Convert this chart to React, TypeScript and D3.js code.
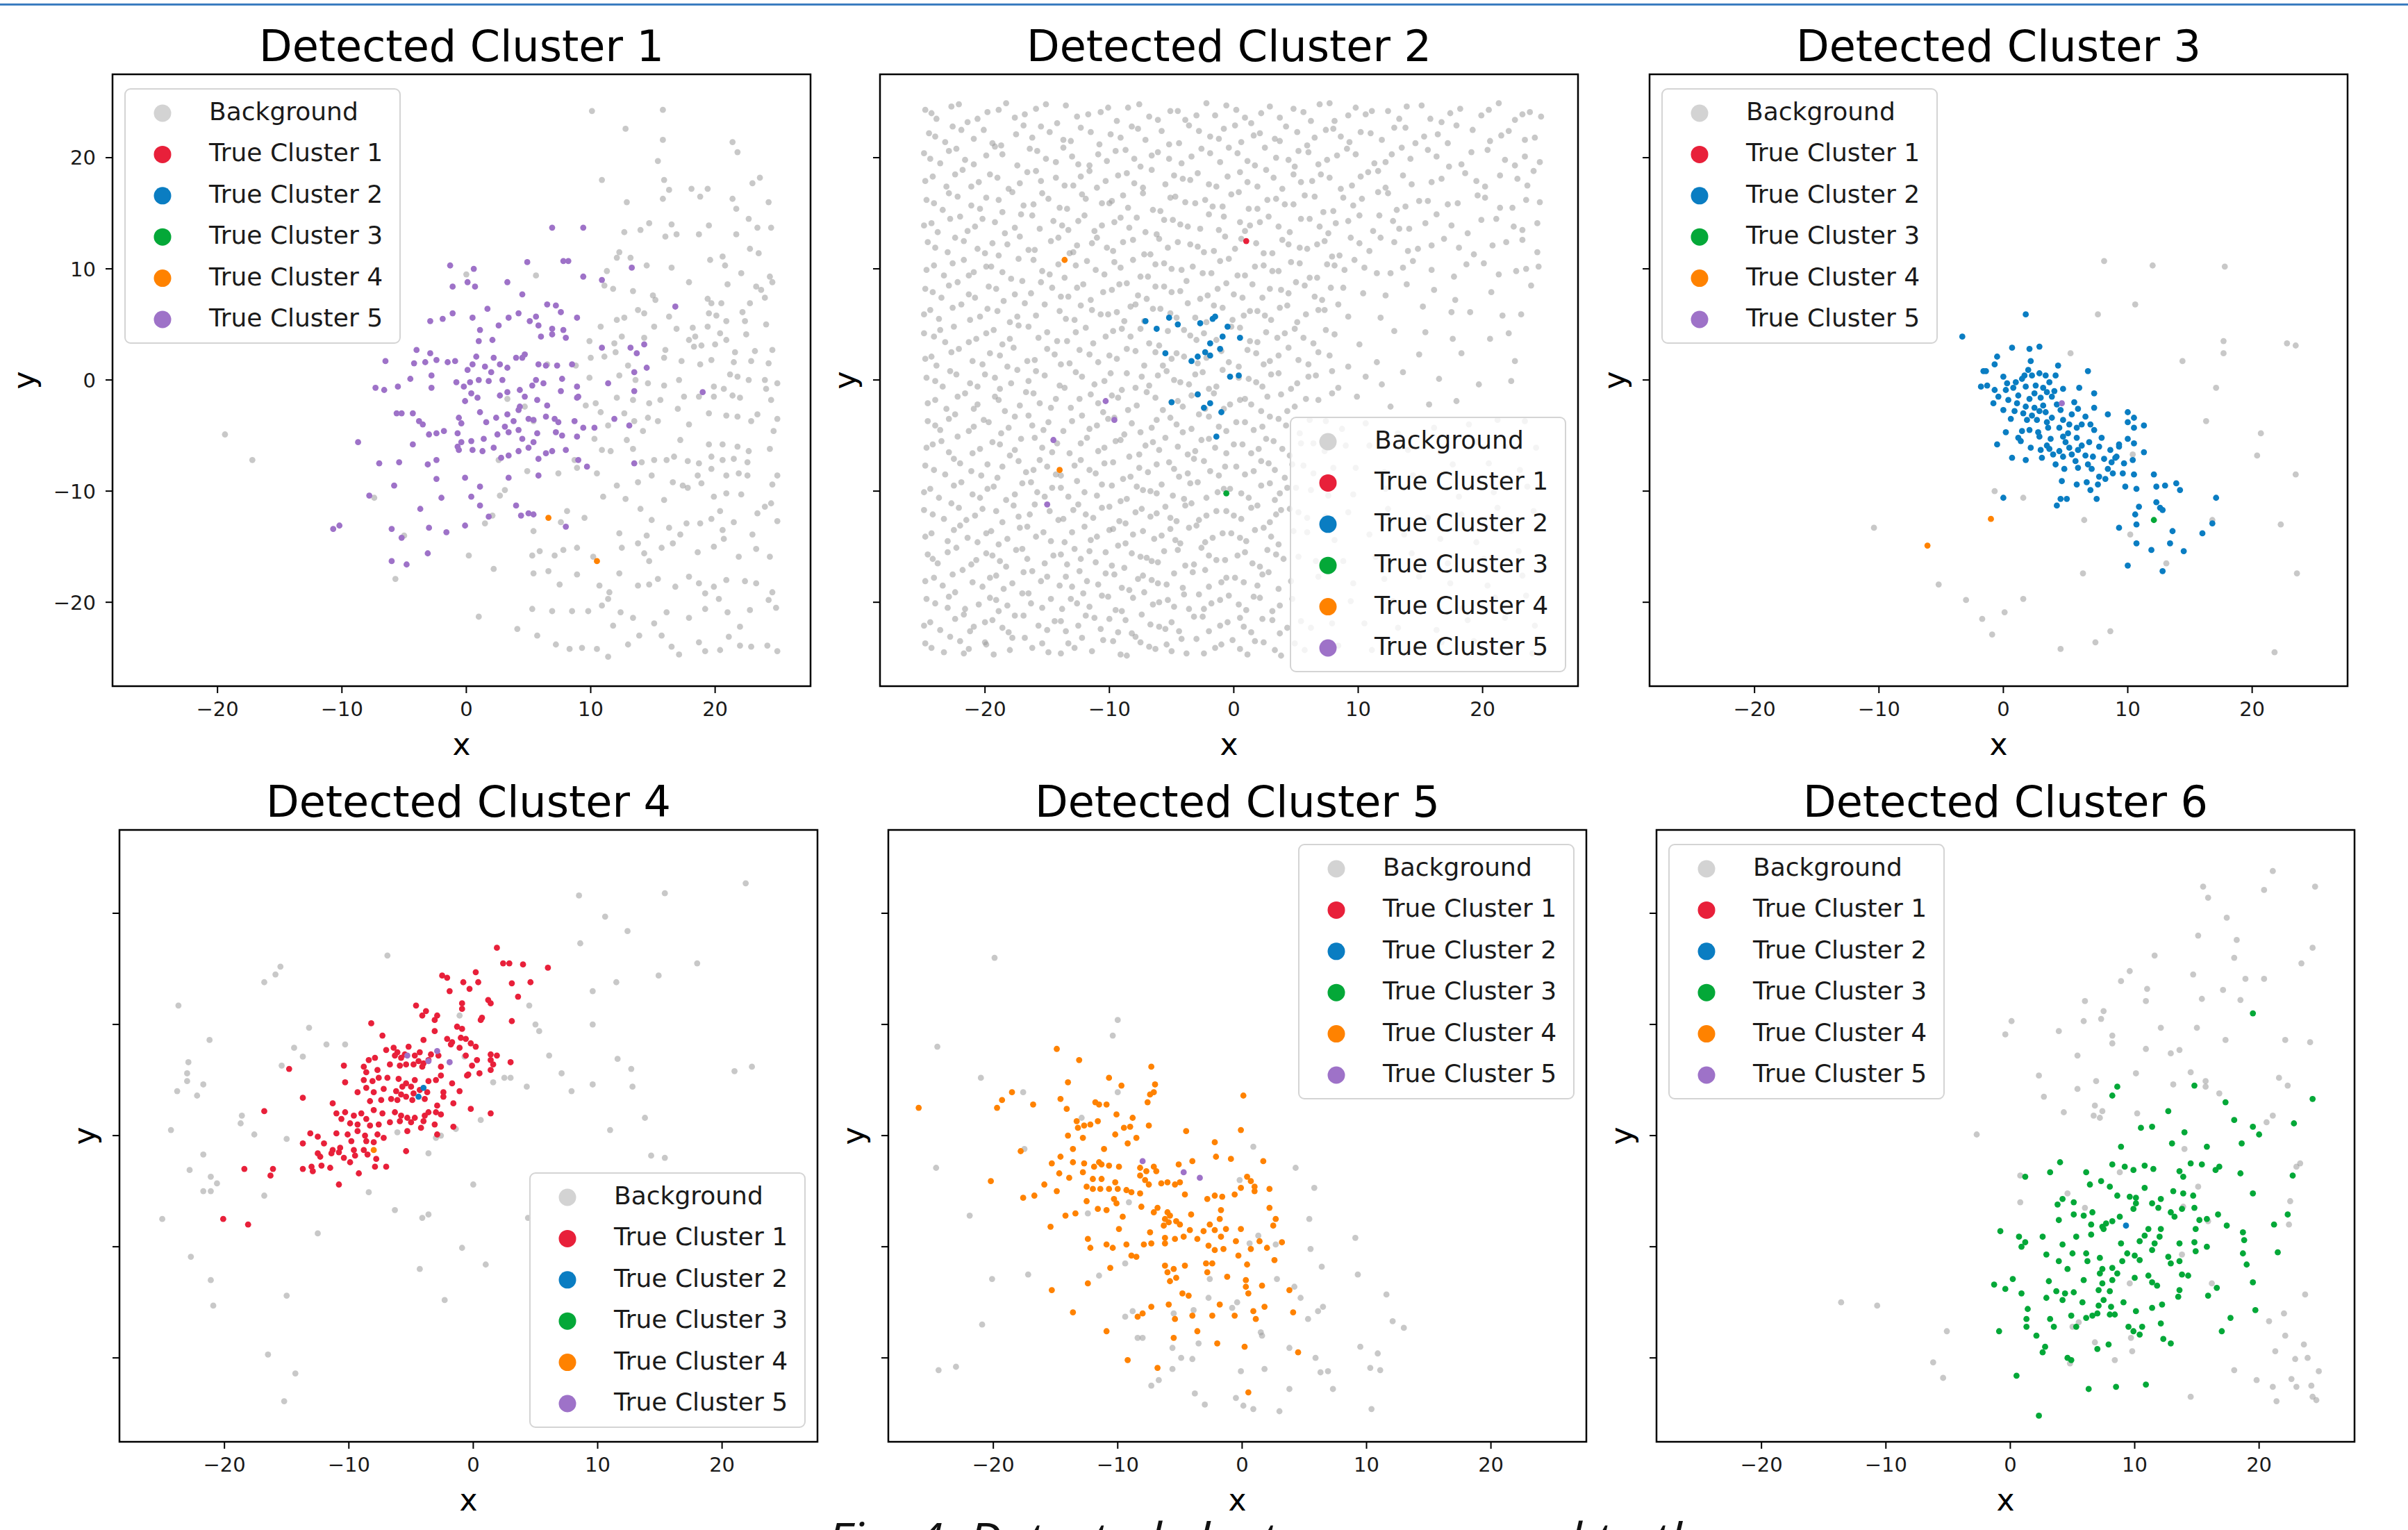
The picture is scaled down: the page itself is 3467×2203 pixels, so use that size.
import React from 'react';
import * as d3 from 'd3';

type Pt = [number, number];

const categories = ['Background', 'True Cluster 1', 'True Cluster 2', 'True Cluster 3', 'True Cluster 4', 'True Cluster 5'];
const titles = ['Detected Cluster 1', 'Detected Cluster 2', 'Detected Cluster 3', 'Detected Cluster 4', 'Detected Cluster 5', 'Detected Cluster 6'];
const tickValues = [-20, -10, 0, 10, 20];
const caption = 'Fig. 4. Detected clusters compared to the';

// ---- Detected Cluster 1 ----
const p1Background: Pt[] = [
  [10.1,24.2],[15.8,24.3],[12.8,22.6],[15.8,21.6],[15.4,19.7],[21.4,21.4],[21.8,20.5],[10.9,18.0],[15.9,18.0],[16.3,17.1],[18.1,17.2],[19.4,17.2],[23.6,18.2],[23.0,17.7],[15.8,16.3],[12.9,16.0],[18.8,16.5],[21.4,16.3],[24.3,16.0],[21.7,15.4],[14.7,14.1],[14.0,13.5],[12.7,13.3],[16.5,14.0],[16.0,12.9],[16.9,13.1],[18.7,13.1],[19.5,13.9],[22.7,14.5],[21.7,13.1],[23.4,13.7],[24.5,13.7],[22.8,11.8],[23.5,11.4],[12.3,11.5],[13.2,11.0],[12.1,11.0],[14.5,10.3],[16.5,10.1],[20.8,10.3],[19.6,10.8],[20.6,11.1],[22.1,9.6],[24.4,9.3],[24.6,8.8],[5.6,9.4],[0.0,9.5],[11.3,9.8],[17.9,8.8],[11.1,8.5],[11.8,8.2],[13.4,8.0],[15.0,7.6],[15.2,7.2],[19.4,7.3],[19.7,6.9],[20.5,6.9],[21.0,8.6],[23.3,8.4],[23.7,8.1],[24.0,7.4],[22.8,6.9],[13.8,6.3],[14.3,6.0],[12.1,5.4],[12.7,5.6],[16.3,5.7],[19.5,6.0],[20.1,5.8],[22.2,6.1],[22.4,5.3],[19.4,4.8],[20.9,5.3],[24.1,5.0],[10.8,4.8],[15.1,4.8],[18.2,4.7],[16.9,4.6],[17.9,3.6],[18.4,3.9],[20.4,4.2],[20.9,3.6],[22.5,4.1],[9.9,3.5],[11.9,3.3],[12.5,3.9],[14.3,3.8],[16.0,2.7],[18.3,3.0],[18.9,3.1],[20.0,3.2],[21.6,2.5],[23.2,2.6],[24.6,2.7],[24.3,1.5],[22.9,1.7],[21.5,1.6],[19.7,1.8],[18.8,1.4],[17.3,1.7],[15.9,2.0],[13.0,1.3],[12.0,2.5],[11.1,2.1],[10.0,2.0],[6.5,1.4],[8.8,1.3],[9.9,0.2],[12.3,0.4],[13.6,0.0],[14.6,-0.3],[17.1,0.0],[15.9,-0.5],[21.2,0.5],[21.8,0.3],[22.7,0.0],[24.0,0.0],[25.0,-0.3],[19.9,-0.6],[20.7,-0.8],[21.4,-1.4],[22.0,-1.6],[24.1,-0.8],[24.5,-1.8],[19.9,-1.5],[18.7,-1.5],[17.5,-1.5],[15.6,-1.8],[14.7,-2.1],[13.4,-1.8],[12.1,-1.6],[10.4,-2.1],[9.6,-2.3],[10.8,-2.9],[3.3,-1.7],[4.7,-2.4],[5.4,-3.7],[11.4,-4.1],[12.7,-3.0],[13.5,-3.7],[14.6,-3.4],[15.4,-3.7],[17.0,-2.6],[17.9,-4.0],[19.5,-3.0],[20.9,-3.2],[21.8,-3.3],[22.9,-3.7],[23.4,-3.1],[24.7,-4.6],[25.0,-3.5],[12.9,-5.4],[14.2,-4.6],[17.2,-5.4],[19.5,-5.8],[20.6,-5.8],[21.8,-6.0],[22.7,-6.4],[24.4,-6.2],[10.3,-5.3],[10.9,-6.3],[11.6,-6.4],[13.4,-6.2],[14.1,-7.4],[15.1,-7.2],[16.1,-7.2],[16.7,-6.9],[17.8,-7.3],[18.7,-7.5],[19.7,-6.9],[20.6,-7.2],[21.5,-7.1],[22.6,-7.4],[2.6,-7.2],[4.9,-8.2],[7.4,-8.4],[8.9,-7.9],[8.7,-7.2],[10.5,-8.4],[12.1,-9.5],[13.8,-9.2],[14.9,-8.6],[16.6,-9.2],[17.8,-9.7],[18.6,-8.6],[18.9,-9.3],[19.7,-8.0],[20.9,-8.6],[21.9,-8.4],[22.6,-8.6],[25.0,-8.6],[24.6,-9.4],[3.1,-9.9],[2.7,-10.4],[8.1,-11.8],[11.0,-10.5],[12.8,-10.7],[14.0,-11.6],[14.9,-12.6],[15.9,-10.8],[17.4,-9.5],[19.9,-10.5],[20.9,-10.2],[20.4,-11.8],[22.1,-10.3],[24.5,-11.1],[24.0,-11.4],[23.4,-12.0],[2.1,-12.2],[1.5,-12.9],[5.4,-13.6],[7.6,-12.8],[9.5,-12.4],[12.3,-13.8],[14.5,-14.0],[16.3,-13.3],[17.2,-13.9],[17.7,-12.9],[18.8,-12.9],[19.7,-12.5],[20.6,-13.5],[21.5,-12.8],[23.0,-13.9],[25.0,-12.7],[-5.0,-14.0],[0.2,-15.8],[5.3,-15.8],[5.9,-15.4],[6.6,-17.2],[7.1,-15.8],[7.8,-15.3],[8.9,-15.1],[10.2,-15.9],[12.5,-15.1],[13.8,-14.7],[14.3,-15.6],[14.7,-16.3],[15.7,-15.1],[16.6,-14.7],[18.6,-15.5],[19.9,-15.0],[20.7,-14.3],[21.9,-15.9],[23.3,-15.2],[24.4,-15.9],[2.2,-17.0],[5.4,-17.4],[7.5,-18.4],[8.9,-17.5],[10.7,-18.5],[11.5,-19.1],[12.3,-17.4],[13.8,-18.5],[14.7,-18.4],[15.4,-17.9],[16.8,-18.6],[17.9,-17.7],[18.7,-18.3],[19.2,-19.2],[19.9,-18.6],[20.9,-18.0],[22.4,-18.1],[23.3,-18.3],[24.6,-19.1],[-5.7,-17.9],[1.0,-21.3],[4.1,-22.4],[5.3,-20.6],[6.9,-20.8],[8.5,-20.8],[9.8,-20.8],[11.4,-19.7],[10.9,-20.3],[12.4,-20.9],[13.4,-21.4],[15.1,-21.9],[16.1,-20.9],[17.9,-21.4],[19.2,-20.6],[20.3,-19.7],[21.0,-20.9],[22.8,-20.7],[24.3,-19.8],[24.9,-20.5],[5.7,-23.0],[7.2,-23.8],[8.3,-24.2],[9.3,-24.1],[10.5,-24.2],[11.4,-24.9],[13.0,-23.8],[13.9,-23.0],[15.7,-23.0],[16.5,-24.0],[17.1,-24.7],[18.7,-23.6],[19.2,-24.4],[20.4,-24.3],[21.1,-23.1],[22.0,-23.9],[22.9,-24.0],[24.2,-23.9],[25.0,-24.4],[11.8,-22.1],[22.0,-22.2],[-19.4,-4.9],[-17.2,-7.2],[-7.4,-10.6],
];
const p1Cluster4: Pt[] = [[6.6,-12.4],[10.5,-16.3]];
const p1Cluster5: Pt[] = [
  [6.9,13.7],[9.4,13.7],[-1.3,10.3],[0.6,10.0],[4.9,10.6],[7.8,10.7],[8.2,10.7],[0.1,8.8],[0.7,8.4],[-1.1,8.4],[3.3,8.8],[4.5,7.7],[9.4,9.3],[10.9,9.0],[13.3,10.1],[6.5,6.8],[7.2,6.7],[7.6,6.1],[8.9,5.6],[-2.9,5.3],[-1.9,5.5],[-1.1,6.0],[0.5,5.6],[1.7,6.4],[3.4,5.6],[4.2,6.0],[5.6,5.7],[2.6,4.9],[1.1,4.5],[2.1,3.6],[1.0,3.5],[6.0,3.9],[6.9,4.1],[8.0,3.8],[6.9,4.6],[7.8,4.5],[5.8,4.9],[5.1,5.3],[10.9,2.9],[13.2,2.9],[14.3,3.2],[13.7,2.4],[16.8,6.6],[-4.0,2.7],[-2.9,2.4],[-1.5,1.6],[-3.3,1.6],[-4.2,1.5],[-2.4,1.8],[-0.9,1.7],[0.1,0.9],[0.8,2.1],[0.5,1.4],[1.5,1.2],[2.2,2.0],[2.7,1.4],[3.3,1.1],[4.0,2.0],[4.5,2.0],[4.7,2.3],[5.8,1.4],[6.4,1.3],[7.3,1.3],[8.5,1.4],[-6.5,1.7],[-4.5,0.1],[-2.8,0.4],[-0.8,-0.2],[-0.2,-0.6],[0.3,-0.2],[1.0,0.0],[1.8,-0.1],[2.0,0.7],[2.9,0.0],[4.3,-0.9],[5.3,-0.5],[5.6,0.0],[6.2,-0.3],[7.7,0.1],[8.9,-0.6],[9.0,-1.5],[11.4,-0.3],[13.5,0.7],[14.5,1.1],[-7.3,-0.7],[-6.6,-0.9],[-5.5,-0.6],[-2.8,-0.7],[-0.1,-1.9],[0.4,-1.2],[0.9,-1.6],[2.7,-1.4],[3.3,-1.1],[4.3,-2.4],[4.7,-1.5],[5.7,-1.8],[6.5,-2.3],[7.6,-1.0],[8.9,-1.6],[-5.6,-3.0],[-5.2,-3.0],[-4.3,-3.0],[-3.8,-3.7],[-3.5,-4.0],[-0.6,-3.4],[-0.4,-3.9],[1.1,-2.9],[1.6,-3.8],[2.4,-3.4],[3.3,-3.1],[3.8,-3.7],[4.2,-2.7],[5.0,-3.5],[5.4,-3.6],[6.4,-3.3],[7.1,-3.5],[7.4,-3.8],[8.7,-3.7],[9.4,-4.3],[10.3,-4.3],[11.9,-3.5],[13.1,-4.1],[-8.7,-5.6],[-4.3,-5.8],[-3.0,-4.9],[-2.4,-4.8],[-1.8,-4.6],[-0.7,-4.8],[-0.4,-5.6],[0.4,-5.5],[1.4,-5.3],[2.5,-4.9],[3.1,-4.2],[3.4,-4.7],[4.2,-4.5],[4.5,-5.3],[5.4,-5.6],[5.7,-4.8],[7.2,-4.7],[7.7,-5.0],[8.9,-5.1],[-7.0,-7.5],[-5.4,-7.4],[-3.1,-7.6],[-2.4,-7.2],[-0.7,-6.0],[-0.6,-6.3],[0.5,-6.3],[1.3,-6.4],[2.2,-6.1],[2.8,-7.0],[3.4,-6.8],[4.2,-6.4],[5.0,-6.1],[5.8,-7.1],[6.4,-6.6],[6.9,-6.4],[8.0,-6.3],[9.0,-7.2],[9.7,-7.8],[13.5,-7.5],[-5.8,-9.5],[-2.4,-8.9],[-0.1,-8.8],[1.1,-9.6],[3.4,-8.8],[5.8,-8.6],[-7.8,-10.4],[-3.7,-11.6],[-2.0,-10.6],[0.4,-10.5],[1.1,-11.3],[1.8,-12.3],[4.0,-11.3],[4.4,-12.2],[5.0,-12.0],[5.4,-12.1],[8.0,-13.2],[-6.0,-13.4],[-3.0,-13.3],[-1.6,-13.7],[-0.1,-13.1],[-5.2,-14.2],[-3.1,-15.6],[-6.0,-16.3],[-4.8,-16.6],[-10.7,-13.4],[-10.2,-13.1],[19.0,-1.1],[13.5,-1.0],
];

// ---- Detected Cluster 2 (background read as rows: x values, y values) ----
const p2BackgroundRows: [number[], number[]][] = [
  [[-24.8,-23.9,-22.1,-21.4,-19.8,-18.3,-17.6,-15.9,-14.2,-13.5,-11.7,-10.1,-9.4,-7.6,-6.8,-5.1,-3.9,-2.2,-1.5,0.2,1.4,2.9,3.7,5.6,6.9,8.1,9.8,10.6,12.4,13.3,15.1,16.7,18.2,19.9,21.3,22.6,23.8,24.7],
   [24.3,23.5,24.8,23.2,24.1,24.9,23.6,24.4,23.1,24.7,23.9,24.5,23.3,24.8,23.7,24.2,23.4,24.9,23.8,24.3,23.1,24.6,23.6,24.1,24.8,23.3,24.5,23.9,24.2,23.5,24.7,23.2,24.4,23.8,24.9,23.4,24.1,23.7]],
  [[-24.5,-23.2,-22.6,-20.9,-20.1,-18.7,-16.9,-16.2,-14.8,-13.1,-12.3,-10.8,-9.9,-8.2,-7.1,-5.8,-4.4,-3.6,-1.9,-0.8,0.6,2.1,3.3,4.2,5.9,7.4,8.6,10.2,11.9,13.8,14.6,16.4,17.9,20.6,22.1,24.2],
   [22.2,21.4,22.8,21.7,22.5,21.1,22.9,21.8,22.3,21.5,22.7,21.2,22.1,22.8,21.6,22.4,21.3,22.9,21.9,22.6,21.4,22.2,21.7,22.8,21.1,22.5,21.9,22.3,21.6,22.7,21.3,22.1,22.9,21.5,22.4,21.8]],
  [[-24.9,-23.6,-22.3,-21.6,-19.9,-19.2,-17.4,-15.8,-15.1,-13.7,-12.5,-10.9,-10.2,-8.7,-7.5,-6.1,-5.2,-3.4,-2.6,-1.1,0.3,1.7,2.5,4.4,5.2,6.8,8.3,9.1,11.3,12.7,14.2,15.6,17.3,19.1,21.8,23.4,24.6],
   [20.4,19.5,20.8,19.8,20.2,21.0,19.3,20.6,19.9,20.9,19.4,20.3,19.7,20.7,19.2,20.5,19.9,20.1,20.8,19.6,20.4,19.3,20.9,19.8,20.6,19.4,20.2,20.8,19.5,20.3,19.9,20.7,19.2,20.5,19.8,20.1,19.6]],
  [[-24.2,-23.1,-21.8,-20.5,-19.6,-18.1,-16.6,-15.5,-14.3,-12.9,-11.6,-11.0,-9.3,-8.0,-6.6,-5.5,-4.1,-2.9,-1.4,-0.5,1.1,2.6,3.9,4.8,6.3,7.7,9.5,10.8,12.2,13.6,15.9,18.6,20.2,22.8,24.1],
   [18.3,17.4,18.9,17.8,18.5,17.2,18.7,17.9,18.2,17.5,18.8,17.3,18.4,17.7,18.9,17.6,18.1,18.6,17.4,18.3,17.8,18.9,17.2,18.5,17.9,18.2,17.5,18.7,17.3,18.4,17.8,18.6,17.4,18.1,18.8]],
  [[-24.7,-23.4,-22.9,-21.1,-19.9,-18.6,-17.8,-16.1,-14.9,-13.4,-12.2,-10.6,-9.8,-8.5,-7.3,-5.9,-4.7,-3.1,-2.3,-0.9,0.4,1.9,3.4,4.1,5.7,7.2,8.8,9.6,11.6,13.1,14.9,17.2,19.6,21.4,23.5],
   [16.2,15.3,16.8,15.7,16.4,15.1,16.9,15.8,16.3,15.4,16.7,15.9,16.1,15.5,16.8,15.2,16.5,15.9,16.2,15.6,16.9,15.4,16.3,15.8,16.6,15.1,16.4,15.7,16.9,15.3,16.1,15.8,16.6,15.5,16.2]],
  [[-24.3,-23.8,-22.0,-20.8,-20.2,-18.4,-17.1,-15.6,-14.5,-13.8,-12.0,-11.2,-9.6,-8.4,-7.8,-6.2,-4.9,-3.7,-2.0,-1.2,0.5,1.3,2.8,4.5,5.4,6.9,8.2,10.1,11.2,12.8,14.1,16.3,18.8,21.1,22.5,24.4],
   [14.1,13.3,14.7,13.8,14.5,13.2,14.9,13.6,14.3,13.9,14.8,13.4,14.2,13.7,14.6,13.1,14.4,13.8,14.9,13.5,14.2,13.9,14.7,13.3,14.5,13.8,14.1,14.8,13.4,14.3,13.6,14.9,13.2,14.5,13.8,14.1]],
  [[-24.6,-23.0,-22.4,-20.6,-19.4,-18.9,-17.2,-16.0,-14.7,-13.2,-12.6,-11.0,-9.7,-8.9,-7.2,-6.0,-5.3,-3.5,-2.4,-0.7,0.1,1.8,3.1,3.9,5.3,6.7,7.9,9.4,10.9,12.9,14.8,16.9,19.3,20.8,23.2],
   [12.4,11.5,12.8,11.8,12.3,11.2,12.9,11.7,12.5,11.4,12.1,12.8,11.6,12.4,11.3,12.7,11.9,12.2,11.5,12.9,11.8,12.3,11.4,12.6,11.9,12.2,11.1,12.8,11.6,12.4,11.8,12.7,11.3,12.1,12.6]],
  [[-24.1,-23.3,-21.7,-20.9,-19.5,-17.9,-17.3,-15.4,-14.1,-13.6,-11.8,-10.4,-9.1,-8.1,-6.9,-5.6,-4.2,-3.3,-1.8,-0.4,0.9,2.4,3.6,4.6,6.1,7.5,8.9,10.5,12.6,14.4,17.7,20.1,22.7,24.5],
   [10.3,9.4,10.8,9.7,10.2,9.1,10.9,9.8,10.4,9.2,10.7,9.5,10.1,10.8,9.3,10.5,9.9,10.2,9.6,10.9,9.4,10.3,9.8,10.6,9.2,10.4,9.9,10.1,9.6,10.7,9.3,10.5,9.8,10.2]],
  [[-24.8,-23.5,-22.2,-21.3,-19.7,-18.5,-17.0,-16.3,-14.6,-13.3,-12.1,-11.5,-9.8,-8.6,-7.7,-6.3,-5.0,-3.8,-2.7,-1.3,0.0,1.5,2.3,3.8,5.0,6.5,7.8,10.4,13.9,17.8,23.9],
   [8.2,7.4,8.8,7.7,8.4,7.1,8.9,7.8,8.3,7.5,8.6,7.2,8.1,8.7,7.6,8.4,7.9,8.9,7.3,8.2,7.7,8.6,7.4,8.1,8.8,7.5,8.3,7.8,8.6,7.2,8.5]],
  [[-24.4,-23.7,-21.9,-20.4,-19.8,-18.0,-16.8,-15.9,-14.0,-12.8,-12.3,-10.7,-9.4,-8.8,-7.9,-6.5,-4.6,-3.7,-2.2,-0.9,0.8,1.9,3.0,4.3,5.8,7.3,9.2,15.2,19.0,21.6],
   [6.3,5.5,6.8,5.7,6.4,5.2,6.9,5.8,6.2,5.4,6.7,5.9,6.1,5.3,6.8,6.4,5.6,6.9,5.2,6.5,5.8,6.2,5.4,6.7,5.9,6.3,5.7,6.6,6.1,5.8]],
  [[-24.9,-23.2,-22.5,-20.7,-19.3,-18.6,-17.3,-15.7,-15.0,-13.4,-11.9,-11.3,-9.7,-8.3,-7.5,-6.0,-4.0,-3.0,-2.4,-0.2,1.3,2.6,3.5,4.9,6.4,8.1,12.9,17.6,22.1],
   [4.2,3.4,4.8,3.7,4.5,3.2,4.9,3.8,4.3,3.5,4.7,3.3,4.4,3.9,4.6,3.1,4.5,3.6,4.2,4.8,3.5,4.3,3.8,4.6,3.3,4.1,4.4,3.7,4.2]],
  [[-24.3,-23.9,-22.1,-21.0,-19.6,-18.2,-17.7,-16.0,-14.4,-13.9,-12.4,-10.9,-10.0,-8.6,-7.2,-6.3,-5.0,-4.0,-2.9,-1.0,0.4,1.8,2.9,4.4,6.0,7.7,11.5,18.3],
   [2.1,1.3,2.8,1.7,2.4,1.2,2.9,1.8,2.3,1.4,2.7,1.6,2.2,2.8,1.3,2.5,1.9,2.1,1.5,2.6,1.2,2.4,1.7,2.9,1.4,2.2,1.6,2.4]],
  [[-24.7,-23.4,-22.8,-21.2,-20.0,-18.8,-17.4,-16.5,-15.2,-13.6,-12.7,-11.2,-9.9,-9.0,-7.4,-6.8,-5.4,-4.3,-3.1,-2.0,-0.9,1.2,2.3,3.6,5.1,6.6,8.4,10.6,13.6,19.7],
   [0.2,-0.6,0.8,-0.3,0.5,-0.8,0.9,-0.1,0.4,-0.7,0.7,-0.4,0.6,-0.9,0.3,-0.5,0.8,-0.2,0.5,-0.8,0.9,0.1,-0.6,0.6,-0.3,0.4,-0.7,0.3,0.7,-0.4]],
  [[-24.0,-23.1,-21.6,-20.6,-19.2,-18.4,-16.7,-15.6,-14.3,-13.1,-11.5,-10.5,-9.3,-7.8,-7.0,-5.7,-4.5,-3.4,-2.3,-1.6,-0.3,0.9,2.2,3.8,4.9,6.8,9.9,15.7],
   [-1.8,-2.6,-1.2,-2.2,-1.5,-2.8,-1.1,-2.1,-1.7,-2.5,-1.3,-2.9,-1.6,-2.3,-1.1,-2.7,-1.9,-1.4,-2.6,-1.2,-2.2,-1.7,-2.8,-1.3,-2.4,-1.8,-1.5,-2.2]],
  [[-24.6,-23.6,-22.4,-20.9,-20.1,-18.7,-17.6,-16.2,-14.9,-13.7,-12.2,-11.6,-10.1,-8.8,-8.2,-6.6,-5.1,-4.1,-2.8,-1.2,0.2,1.6,2.9,4.2,6.1,8.7,13.2,18.9,23.4],
   [-3.7,-4.5,-3.1,-4.2,-3.6,-4.8,-3.3,-4.1,-3.8,-4.6,-3.2,-4.4,-3.5,-4.9,-3.9,-4.3,-3.4,-4.7,-3.1,-4.2,-3.8,-4.5,-3.3,-4.1,-3.6,-4.4,-4.8,-4.0,-3.7]],
  [[-24.2,-22.9,-22.2,-20.4,-19.4,-18.0,-17.1,-15.4,-14.2,-13.2,-11.8,-10.9,-9.5,-8.4,-7.1,-6.0,-5.5,-3.7,-2.6,-1.5,0.0,1.4,2.6,3.9,5.4,7.3,10.9,16.6,21.8],
   [-5.8,-6.5,-5.1,-6.2,-5.6,-6.8,-5.3,-6.1,-5.7,-6.6,-5.2,-6.4,-5.5,-6.9,-5.9,-6.3,-5.2,-6.7,-5.4,-6.1,-5.8,-6.6,-5.3,-6.2,-5.7,-6.4,-5.9,-6.5,-6.0]],
  [[-24.8,-23.2,-22.5,-21.1,-19.8,-19.0,-17.3,-16.1,-15.0,-13.9,-12.3,-11.1,-10.4,-8.9,-7.6,-6.9,-5.2,-4.4,-3.2,-1.9,-0.7,0.9,2.2,3.3,4.7,6.4,9.8,14.4,20.5],
   [-7.7,-8.5,-7.1,-8.2,-7.6,-8.8,-7.3,-8.1,-7.8,-8.6,-7.2,-8.4,-7.5,-8.9,-7.9,-8.3,-7.4,-8.7,-7.1,-8.2,-7.8,-8.5,-7.3,-8.1,-7.6,-8.4,-7.9,-8.6,-7.5]],
  [[-24.4,-23.7,-21.9,-21.0,-19.3,-18.3,-17.0,-15.8,-14.6,-13.3,-12.6,-11.0,-9.8,-9.1,-7.3,-6.2,-5.8,-4.0,-2.9,-1.3,-0.3,1.2,2.9,3.7,5.0,7.6,12.2,18.1,23.6],
   [-9.8,-10.6,-9.2,-10.3,-9.6,-10.8,-9.3,-10.1,-9.7,-10.5,-9.1,-10.4,-9.5,-10.9,-9.9,-10.2,-9.4,-10.7,-9.2,-10.1,-9.8,-10.6,-9.3,-10.2,-9.7,-10.4,-9.8,-10.5,-9.6]],
  [[-24.9,-23.3,-22.7,-20.8,-20.2,-18.6,-17.7,-16.4,-14.8,-14.1,-12.5,-11.3,-10.6,-8.7,-7.9,-6.7,-5.5,-4.6,-3.4,-2.2,-0.6,0.6,1.9,3.4,4.5,5.9,9.2,15.6,21.2],
   [-11.7,-12.5,-11.1,-12.2,-11.6,-12.8,-11.3,-12.1,-11.8,-12.6,-11.2,-12.4,-11.5,-12.9,-11.9,-12.3,-11.4,-12.7,-11.1,-12.2,-11.8,-12.5,-11.3,-12.1,-11.6,-12.4,-11.9,-12.4,-11.5]],
  [[-24.3,-23.0,-22.0,-21.4,-19.5,-18.9,-17.2,-15.9,-15.3,-13.6,-12.0,-11.5,-10.0,-9.3,-8.1,-6.4,-5.1,-4.3,-3.0,-1.7,-0.2,1.0,2.4,3.0,4.8,8.1,13.7,19.5],
   [-13.8,-14.5,-13.1,-14.2,-13.6,-14.8,-13.3,-14.1,-13.7,-14.6,-13.2,-14.4,-13.5,-14.9,-13.9,-14.3,-13.4,-14.7,-13.1,-14.2,-13.8,-14.5,-13.3,-14.1,-13.6,-14.4,-13.9,-14.6]],
  [[-24.6,-23.8,-22.3,-20.7,-19.9,-18.3,-17.5,-16.6,-14.5,-13.4,-12.8,-11.1,-10.3,-8.8,-7.5,-6.6,-5.6,-3.9,-2.6,-1.4,0.3,1.5,2.7,4.0,6.6,11.4,17.2,22.9],
   [-15.7,-16.5,-15.1,-16.2,-15.6,-16.8,-15.3,-16.1,-15.8,-16.6,-15.2,-16.4,-15.5,-16.9,-15.9,-16.3,-15.4,-16.7,-15.1,-16.2,-15.8,-16.5,-15.3,-16.1,-16.3,-15.9,-16.5,-15.4]],
  [[-24.1,-23.4,-21.8,-21.0,-19.1,-18.5,-16.9,-15.5,-15.0,-13.0,-12.4,-10.9,-9.6,-8.4,-7.7,-6.1,-4.8,-4.1,-2.3,-1.0,0.1,1.9,2.8,4.6,9.6,14.9,20.4],
   [-17.8,-18.5,-17.1,-18.2,-17.6,-18.8,-17.3,-18.1,-17.7,-18.6,-17.2,-18.4,-17.5,-18.9,-17.9,-18.3,-17.4,-18.7,-17.1,-18.2,-17.8,-18.5,-17.3,-18.1,-18.3,-17.7,-18.5]],
  [[-24.7,-23.0,-22.4,-20.5,-19.6,-18.9,-17.0,-16.3,-14.7,-13.8,-12.1,-11.6,-10.1,-9.0,-7.2,-6.5,-5.3,-3.6,-2.8,-1.8,-0.4,1.0,2.1,3.7,7.1,12.8,18.4,23.5],
   [-19.7,-20.5,-19.1,-20.2,-19.6,-20.8,-19.2,-20.1,-19.7,-20.6,-19.2,-20.4,-19.5,-20.8,-19.1,-20.2,-19.8,-20.6,-19.3,-20.1,-19.4,-20.7,-19.6,-20.3,-20.3,-19.9,-20.5,-19.4]],
  [[-24.4,-23.6,-21.7,-20.9,-19.4,-18.1,-17.6,-15.7,-14.4,-13.5,-11.9,-10.7,-10.0,-8.2,-7.4,-6.0,-5.0,-4.4,-2.5,-1.1,0.5,1.4,3.1,4.3,6.2,10.5,16.3,21.8],
   [-21.8,-22.5,-21.1,-22.2,-21.6,-22.7,-21.2,-22.1,-21.7,-22.6,-21.2,-22.4,-21.5,-22.8,-21.1,-22.2,-21.8,-22.6,-21.3,-22.1,-21.4,-22.7,-21.6,-22.3,-22.3,-21.9,-22.5,-21.4]],
  [[-24.8,-23.3,-22.8,-21.3,-20.0,-19.3,-17.8,-16.2,-15.4,-13.9,-12.2,-11.4,-9.7,-8.6,-7.9,-6.3,-5.4,-3.8,-3.0,-1.5,-0.1,1.1,2.4,3.3,5.7,8.4,13.9,19.3,24.0],
   [-23.7,-24.5,-23.1,-24.2,-23.6,-24.7,-23.2,-24.1,-23.7,-24.6,-23.2,-24.4,-23.5,-24.8,-23.1,-24.2,-23.8,-24.6,-23.3,-24.1,-23.4,-24.7,-23.6,-24.3,-24.3,-23.9,-24.5,-23.5,-24.6]],
];
const p2BackgroundRowsB: [number[], number[]][] = [
  [[-24.3,-22.7,-20.6,-18.9,-16.8,-15.1,-12.6,-10.7,-8.5,-6.1,-4.5,-3.0,-0.6,0.9,2.2,4.8,6.2,7.7,9.2,11.1,13.9,15.8,17.4,20.5,23.2],
   [24.0,24.6,23.5,24.3,23.9,24.8,23.7,24.1,24.5,23.4,24.2,23.8,24.7,23.6,24.0,24.4,23.3,24.9,23.8,24.2,24.6,23.5,24.0,24.3,23.9]],
  [[-24.0,-21.9,-19.4,-17.5,-15.5,-13.7,-11.5,-9.1,-7.7,-5.2,-2.8,-1.2,0.1,1.6,3.7,5.1,6.5,8.0,9.3,11.0,12.9,15.3,17.2,19.2,21.5,23.4],
   [21.9,22.5,21.3,22.1,22.8,21.6,22.3,21.8,22.6,21.2,22.4,21.7,22.9,22.0,21.5,22.3,21.8,22.6,21.4,22.2,22.7,21.9,21.3,22.5,22.0,21.6]],
  [[-24.4,-22.9,-20.9,-18.6,-16.4,-14.3,-13.0,-11.6,-9.5,-8.0,-6.6,-4.2,-1.9,-0.4,1.1,3.4,4.9,6.0,7.5,9.8,12.2,13.5,16.3,18.3,20.4,22.6],
   [19.9,20.6,19.4,20.3,20.8,19.6,20.1,19.3,20.6,19.9,20.2,19.5,20.4,20.9,19.7,20.0,19.2,20.5,19.8,20.3,19.6,20.9,20.1,19.4,20.7,19.3]],
  [[-24.8,-22.4,-21.1,-19.0,-17.2,-15.9,-13.6,-12.3,-10.3,-8.6,-7.3,-4.8,-3.5,-2.0,0.5,1.9,3.2,5.4,7.0,8.6,10.2,11.6,14.3,16.7,19.5,21.4,23.6],
   [17.9,18.5,17.4,18.2,17.7,18.8,17.5,18.3,17.9,18.6,17.3,18.4,18.0,17.6,18.7,17.4,18.2,17.8,18.5,17.2,18.3,18.8,17.6,18.1,17.9,18.4,17.5]],
  [[-24.1,-22.2,-20.4,-18.9,-16.9,-15.4,-14.0,-11.9,-10.0,-8.9,-6.5,-5.1,-3.9,-1.7,-0.2,1.2,2.7,4.8,6.5,8.0,10.3,12.4,13.8,15.6,18.0,20.2,22.4,24.6],
   [15.9,16.5,15.4,16.2,15.7,16.8,15.5,16.3,15.9,16.6,15.3,16.4,16.0,15.6,16.7,15.4,16.2,15.8,16.5,15.2,16.3,16.8,15.6,16.1,15.9,16.4,15.5,16.0]],
  [[-24.9,-22.8,-21.4,-19.2,-17.6,-16.2,-13.3,-12.5,-10.6,-9.1,-7.1,-5.6,-4.3,-2.7,-0.8,0.9,2.1,3.6,6.1,7.6,9.2,11.7,13.3,15.4,17.5,19.9,23.2],
   [13.9,14.5,13.4,14.2,13.7,14.8,13.5,14.3,13.9,14.6,13.3,14.4,14.0,13.6,14.7,13.4,14.2,13.8,14.5,13.2,14.3,14.8,13.6,14.1,13.9,14.4,13.5]],
  [[-24.0,-21.7,-20.0,-18.2,-16.5,-14.1,-12.9,-11.4,-10.2,-8.1,-6.7,-4.5,-2.9,-1.6,0.6,2.4,4.4,5.9,7.3,8.5,10.1,11.8,14.0,15.9,18.1,21.9,24.4],
   [11.9,12.5,11.4,12.2,11.7,12.8,11.5,12.3,11.9,12.6,11.3,12.4,12.0,11.6,12.7,11.4,12.2,11.8,12.5,11.2,12.3,12.8,11.6,12.1,11.9,12.4,11.5]],
  [[-24.7,-22.6,-21.3,-19.9,-18.6,-16.1,-14.8,-12.7,-11.1,-9.6,-7.5,-6.3,-5.0,-2.5,-1.1,0.3,1.7,3.1,5.3,6.7,8.1,9.7,11.5,13.6,15.9,18.7,21.3,23.5],
   [9.9,10.5,9.4,10.2,9.7,10.8,9.5,10.3,9.9,10.6,9.3,10.4,10.0,9.6,10.7,9.4,10.2,9.8,10.5,9.2,10.3,10.8,9.6,10.1,9.9,10.4,9.5,10.0]],
  [[-24.2,-22.9,-20.8,-19.1,-17.6,-15.5,-13.9,-12.6,-10.5,-9.2,-7.0,-5.6,-4.3,-2.1,-0.6,0.7,2.9,4.4,5.7,7.1,8.8,12.2,16.1,20.7],
   [7.9,8.5,7.4,8.2,7.7,8.8,7.5,8.3,7.9,8.6,7.3,8.4,8.0,7.6,8.7,7.4,8.2,7.8,8.5,7.2,8.3,7.6,8.1,7.9]],
  [[-24.9,-22.6,-21.2,-19.0,-17.4,-15.2,-13.5,-11.4,-10.1,-8.3,-7.2,-5.9,-5.1,-3.1,-1.6,-0.1,1.3,2.5,3.7,5.1,6.8,8.4,11.8,17.5,23.1],
   [5.9,6.5,5.4,6.2,5.7,6.8,5.5,6.3,5.9,6.6,5.3,6.4,6.0,5.6,6.7,5.4,6.2,5.8,6.5,5.2,6.3,6.8,5.6,6.1,5.9]],
  [[-24.1,-23.6,-21.3,-19.9,-18.0,-16.5,-14.2,-12.7,-10.3,-9.0,-6.8,-5.3,-3.5,-1.4,0.5,1.9,4.1,5.6,7.4,10.1,15.4,20.6],
   [3.9,4.5,3.4,4.2,3.7,4.8,3.5,4.3,3.9,4.6,3.3,4.4,4.0,3.6,4.7,3.4,4.2,3.8,4.5,3.2,4.3,3.7]],
  [[-24.8,-22.7,-20.2,-18.8,-16.6,-15.0,-13.2,-11.6,-9.4,-7.9,-5.7,-4.6,-2.2,-0.4,1.1,2.4,3.6,5.2,6.8,9.2,14.9,22.6],
   [1.9,2.5,1.4,2.2,1.7,2.8,1.5,2.3,1.9,2.6,1.3,2.4,2.0,1.6,2.7,1.4,2.2,1.8,2.5,1.2,2.3,1.7]],
  [[-24.0,-22.3,-20.6,-19.2,-17.9,-15.9,-14.0,-12.2,-10.4,-8.6,-7.9,-6.1,-4.8,-3.6,-2.5,-1.4,0.4,1.8,3.0,4.6,6.0,7.9,11.9,16.5,22.3],
   [-0.1,0.5,-0.6,0.2,-0.3,0.8,-0.5,0.3,-0.1,0.6,-0.7,0.4,0.0,-0.4,0.7,-0.6,0.2,-0.2,0.5,-0.8,0.3,0.8,-0.4,0.1,-0.1]],
  [[-24.6,-22.2,-20.9,-18.9,-17.2,-16.1,-14.7,-12.4,-10.9,-9.8,-8.5,-6.3,-5.0,-4.1,-2.9,-0.8,0.5,1.4,2.7,4.3,5.8,7.9,12.6,17.9],
   [-2.1,-1.5,-2.6,-1.8,-2.3,-1.2,-2.5,-1.7,-2.1,-1.4,-2.7,-1.6,-2.0,-2.4,-1.3,-2.6,-1.8,-2.2,-1.5,-2.8,-1.7,-1.2,-2.4,-1.9]],
  [[-24.0,-22.9,-21.3,-19.7,-18.1,-16.5,-15.3,-13.0,-11.0,-9.6,-7.5,-6.2,-4.6,-3.4,-2.0,-0.6,0.9,2.3,3.6,5.3,7.4,10.6,16.1,21.2],
   [-4.1,-3.5,-4.6,-3.8,-4.3,-3.2,-4.5,-3.7,-4.1,-3.4,-4.7,-3.6,-4.0,-4.4,-3.3,-4.6,-3.8,-4.2,-3.5,-4.8,-3.7,-3.9,-4.3,-3.6]],
  [[-24.7,-23.5,-21.0,-18.8,-17.6,-16.0,-14.6,-12.3,-10.4,-9.1,-7.6,-6.5,-4.5,-3.1,-2.0,-0.6,0.7,2.0,3.2,4.5,6.4,9.0,14.0,19.6,24.3],
   [-6.1,-5.5,-6.6,-5.8,-6.3,-5.2,-6.5,-5.7,-6.1,-5.4,-6.7,-5.6,-6.0,-6.4,-5.3,-6.6,-5.8,-6.2,-5.5,-6.8,-5.7,-5.9,-6.3,-5.6,-6.1]],
  [[-24.1,-22.0,-20.3,-18.6,-16.7,-15.6,-14.3,-12.8,-11.6,-9.7,-8.3,-6.2,-4.8,-3.7,-2.4,-1.2,0.2,1.6,2.8,4.1,5.6,8.0,12.1,17.6,23.0],
   [-8.1,-7.5,-8.6,-7.8,-8.3,-7.2,-8.5,-7.7,-8.1,-7.4,-8.7,-7.6,-8.0,-8.4,-7.3,-8.6,-7.8,-8.2,-7.5,-8.8,-7.7,-7.9,-8.3,-7.6,-8.1]],
  [[-24.9,-22.5,-20.4,-19.8,-17.6,-16.3,-15.2,-13.9,-12.0,-10.6,-8.6,-7.8,-6.7,-4.9,-3.5,-2.2,-0.8,0.6,2.2,3.3,4.3,6.2,9.6,15.1,20.9],
   [-10.1,-9.5,-10.6,-9.8,-10.3,-9.2,-10.5,-9.7,-10.1,-9.4,-10.7,-9.6,-10.0,-10.4,-9.3,-10.6,-9.8,-10.2,-9.5,-10.8,-9.7,-9.9,-10.3,-9.6,-10.1]],
  [[-24.2,-22.1,-21.5,-19.1,-17.3,-16.0,-13.7,-12.9,-11.9,-10.0,-9.2,-7.4,-6.2,-5.1,-3.9,-2.8,-1.4,0.0,1.4,2.9,3.8,5.2,7.4,12.4,18.3,24.1],
   [-12.1,-11.5,-12.6,-11.8,-12.3,-11.2,-12.5,-11.7,-12.1,-11.4,-12.7,-11.6,-12.0,-12.4,-11.3,-12.6,-11.8,-12.2,-11.5,-12.8,-11.7,-11.9,-12.3,-11.6,-12.1,-11.8]],
  [[-24.8,-22.5,-20.6,-19.9,-18.2,-16.6,-14.7,-13.0,-11.0,-9.7,-8.7,-7.3,-5.8,-4.7,-3.6,-2.3,-0.9,0.5,1.7,3.6,5.9,10.9,16.6,22.3],
   [-14.1,-13.5,-14.6,-13.8,-14.3,-13.2,-14.5,-13.7,-14.1,-13.4,-14.7,-13.6,-14.0,-14.4,-13.3,-14.6,-13.8,-14.2,-13.5,-14.8,-13.7,-13.9,-14.3,-13.6]],
  [[-24.2,-23.0,-21.1,-19.4,-18.8,-17.0,-15.2,-13.9,-12.3,-11.6,-9.8,-8.2,-7.0,-6.1,-4.5,-3.2,-2.0,-0.7,0.9,2.1,3.4,5.2,8.8,14.3,20.1],
   [-16.1,-15.5,-16.6,-15.8,-16.3,-15.2,-16.5,-15.7,-16.1,-15.4,-16.7,-15.6,-16.0,-16.4,-15.3,-16.6,-15.8,-16.2,-15.5,-16.8,-15.7,-15.9,-16.3,-15.6,-16.1]],
  [[-24.8,-22.6,-20.2,-19.6,-17.8,-16.2,-14.0,-13.5,-11.8,-10.3,-9.0,-7.3,-6.6,-5.4,-3.3,-2.0,-0.6,0.8,2.3,3.6,6.8,12.1,17.4,23.2],
   [-18.1,-17.5,-18.6,-17.8,-18.3,-17.2,-18.5,-17.7,-18.1,-17.4,-18.7,-17.6,-18.0,-18.4,-17.3,-18.6,-17.8,-18.2,-17.5,-18.8,-17.7,-17.9,-18.3,-17.6]],
  [[-24.0,-22.9,-21.6,-19.1,-18.2,-16.5,-15.4,-13.1,-12.6,-10.6,-9.5,-8.1,-6.0,-4.8,-4.0,-2.4,-1.1,0.4,1.6,3.1,4.7,9.4,15.3,21.0],
   [-20.1,-19.5,-20.6,-19.8,-20.3,-19.2,-20.5,-19.7,-20.1,-19.4,-20.7,-19.6,-20.0,-20.4,-19.3,-20.6,-19.8,-20.2,-19.5,-20.8,-19.7,-19.9,-20.3,-19.6]],
  [[-24.9,-22.4,-21.2,-20.0,-18.6,-16.9,-15.0,-13.9,-12.5,-11.2,-9.3,-8.7,-6.7,-5.5,-3.2,-2.0,-0.5,0.8,2.3,3.7,5.4,7.9,13.2,18.8,24.2],
   [-22.1,-21.5,-22.6,-21.8,-22.3,-21.2,-22.5,-21.7,-22.1,-21.4,-22.7,-21.6,-22.0,-22.4,-21.3,-22.6,-21.8,-22.2,-21.5,-22.8,-21.7,-21.9,-22.3,-21.6,-22.1]],
  [[-24.3,-22.0,-21.7,-19.9,-18.0,-16.8,-14.9,-13.3,-12.8,-10.5,-9.1,-7.5,-6.8,-5.0,-4.2,-2.4,-1.0,0.5,1.7,3.8,4.9,7.2,11.1,16.7,22.4],
   [-24.1,-23.5,-24.6,-23.8,-24.3,-23.2,-24.5,-23.7,-24.1,-23.4,-24.7,-23.6,-24.0,-24.4,-23.3,-24.6,-23.8,-24.2,-23.5,-24.8,-23.7,-23.9,-24.3,-23.6,-24.1]],
];
const p2Cluster1: Pt[] = [[1.0,12.5]];
const p2Cluster2: Pt[] = [
  [-7.1,5.3],[-6.2,4.6],[-5.2,5.6],[-4.5,5.0],[-2.7,5.1],[-1.7,5.5],[-1.5,5.7],[-0.5,4.8],[-0.9,3.9],[0.5,3.8],[-1.9,3.3],[-5.5,2.4],[-3.4,1.7],[-2.9,2.1],[-2.3,2.5],[-1.9,2.2],[-1.1,2.8],[-0.3,0.3],[0.4,0.4],[-5.0,-2.0],[-2.9,-1.3],[-1.9,-2.1],[-2.4,-2.5],[-1.0,-2.9],[-1.4,-5.1],
];
const p2Cluster3: Pt[] = [[-0.6,-10.2]];
const p2Cluster4: Pt[] = [[-13.6,10.8],[-14.0,-8.1]];
const p2Cluster5: Pt[] = [[-10.3,-1.9],[-9.6,-3.6],[-14.5,-5.4],[-15.0,-11.2]];

// ---- Detected Cluster 3 ----
const p3Background: Pt[] = [
  [8.1,10.7],[12.0,10.3],[17.8,10.2],[10.6,6.8],[7.6,5.9],[5.4,2.4],[14.4,1.7],[17.7,3.5],[17.7,2.4],[22.8,3.3],[23.5,3.1],[17.1,-0.7],[16.3,-3.7],[20.7,-4.8],[20.4,-6.8],[23.5,-8.5],[10.4,-6.7],[-0.7,-10.0],[1.6,-10.6],[6.5,-12.6],[10.2,-13.9],[16.8,-12.6],[22.3,-13.0],[-10.4,-13.3],[-5.2,-18.4],[-3.0,-19.8],[1.6,-19.7],[0.1,-20.9],[-1.7,-21.5],[-0.9,-22.9],[6.4,-17.4],[13.1,-16.5],[23.6,-17.4],[8.6,-22.6],[7.4,-23.6],[4.6,-24.2],[21.8,-24.5],
];
const p3Cluster2: Pt[] = [
  [1.8,5.9],[-3.3,3.9],[0.7,2.9],[2.1,2.8],[2.9,3.0],[-0.5,2.1],[-0.7,1.4],[2.2,1.7],[-1.6,0.8],[-1.4,0.8],[6.8,0.8],[0.0,0.3],[1.7,0.4],[2.3,0.4],[2.9,0.6],[3.4,0.4],[4.2,0.4],[-1.8,-0.6],[-1.3,-0.5],[-0.7,-0.9],[0.2,-0.9],[0.8,-0.7],[1.8,-0.6],[2.6,-0.5],[3.2,-0.7],[4.8,-0.8],[6.1,-0.7],[7.3,-1.2],[1.2,-1.4],[2.1,-1.7],[3.0,-1.6],[3.9,-1.5],[-0.8,-2.1],[1.1,-2.1],[1.8,-2.4],[2.5,-2.5],[3.2,-2.3],[4.3,-2.2],[0.0,-2.7],[0.9,-2.8],[3.4,-2.9],[2.9,-2.8],[4.6,-2.7],[6.0,-2.6],[7.3,-2.5],[5.5,-3.1],[8.4,-3.1],[10.0,-2.9],[0.6,-3.5],[1.9,-3.6],[2.7,-3.6],[3.5,-3.8],[5.3,-4.0],[6.3,-4.0],[10.0,-3.8],[10.5,-3.4],[11.3,-4.1],[0.2,-4.7],[1.5,-4.6],[2.1,-4.5],[2.8,-4.7],[3.6,-4.3],[4.5,-4.3],[5.2,-4.8],[5.9,-4.3],[7.3,-4.5],[10.5,-4.3],[-0.5,-5.8],[1.4,-5.5],[2.9,-5.1],[3.8,-5.3],[4.8,-5.1],[5.9,-5.2],[6.9,-5.6],[9.3,-5.8],[10.0,-5.3],[10.5,-5.7],[3.0,-6.3],[3.7,-6.2],[4.5,-6.4],[5.3,-6.1],[6.0,-6.3],[7.7,-6.0],[9.3,-6.0],[0.7,-7.0],[1.8,-7.2],[3.1,-7.0],[4.0,-6.7],[4.8,-6.9],[5.5,-6.7],[6.6,-6.8],[7.2,-6.9],[8.1,-7.1],[8.7,-7.4],[9.1,-6.9],[9.7,-7.5],[10.4,-7.2],[11.3,-6.5],[4.9,-8.0],[6.0,-7.9],[7.1,-8.0],[8.4,-8.0],[8.8,-8.4],[9.6,-8.4],[10.5,-8.5],[4.7,-9.1],[5.9,-9.4],[6.7,-9.2],[7.7,-8.7],[9.8,-9.6],[10.7,-9.8],[12.1,-8.5],[12.3,-9.6],[13.0,-9.5],[13.9,-9.3],[14.2,-9.9],[7.0,-9.9],[7.6,-9.4],[7.5,-10.7],[0.0,-10.6],[4.3,-11.3],[4.6,-10.7],[5.1,-10.7],[10.9,-11.4],[12.3,-11.0],[12.6,-11.5],[12.8,-11.7],[17.1,-10.6],[16.8,-12.9],[10.6,-12.1],[9.3,-13.3],[10.7,-13.0],[13.6,-13.6],[16.0,-13.8],[10.7,-14.7],[11.9,-15.3],[13.4,-14.7],[14.5,-15.4],[10.0,-16.7],[12.8,-17.2],
  [1.0,-0.2],[2.0,0.9],[3.7,-0.2],[4.1,-1.0],[0.4,-1.8],[1.6,-3.0],[2.3,-3.2],[3.9,-3.4],[4.8,-3.6],[5.7,-2.0],[6.6,-3.3],[2.5,-1.2],[3.5,-1.1],[1.5,0.1],[0.3,-0.3],[-0.4,-1.5],[5.0,-5.6],[6.3,-5.9],[7.9,-5.2],[8.6,-6.3],[4.2,-7.6],[5.8,-7.3],[6.8,-7.6],[3.5,-5.9],[2.2,-6.1],[8.2,-8.9],[9.0,-7.0],[1.2,-5.2],[7.0,-4.0],[4.4,1.3],
];
const p3Cluster3: Pt[] = [[12.1,-12.6]];
const p3Cluster4: Pt[] = [[-1.0,-12.5],[-6.1,-14.9]];
const p3Cluster5: Pt[] = [[4.7,-2.1]];

// ---- Detected Cluster 4 ----
const p4Background: Pt[] = [
  [21.9,22.7],[15.4,21.8],[8.5,21.6],[10.6,19.7],[12.4,18.4],[8.6,17.3],[-6.9,16.2],[-15.5,15.2],[-15.9,14.5],[-16.8,13.8],[18.0,15.5],[14.9,14.4],[11.5,13.8],[9.6,13.0],[4.5,11.7],[-23.7,11.7],[-13.2,9.7],[-21.2,8.6],[5.0,10.0],[5.3,9.4],[9.6,10.0],[-11.8,8.2],[-10.3,8.2],[-14.4,7.9],[-13.7,7.1],[-22.9,6.6],[-23.0,5.6],[-15.4,6.3],[6.1,7.2],[11.6,6.9],[12.7,6.0],[21.0,5.8],[22.4,6.2],[7.1,5.6],[-23.0,4.9],[-21.7,4.6],[-23.8,4.0],[-22.2,3.6],[1.6,4.8],[2.5,5.2],[3.0,5.2],[4.3,4.4],[7.9,4.0],[9.6,4.6],[12.8,4.4],[13.8,1.6],[-18.6,1.8],[-18.7,1.1],[-24.3,0.5],[-17.6,0.1],[-15.0,-0.3],[-6.1,0.3],[-3.0,-0.2],[-1.4,0.6],[0.6,1.4],[11.0,0.5],[14.3,-1.8],[15.4,-2.0],[-21.7,-1.7],[-3.6,-1.6],[-22.8,-3.1],[-21.1,-3.7],[-20.6,-4.3],[-21.7,-5.0],[-21.1,-5.0],[-16.8,-5.4],[-8.4,-5.1],[0.0,-4.4],[-6.3,-6.7],[-25.0,-7.5],[-4.1,-7.4],[-3.6,-7.1],[4.4,-7.4],[-12.5,-8.8],[-0.9,-10.1],[-22.7,-10.9],[-21.1,-13.0],[-4.3,-12.0],[1.0,-11.6],[-20.9,-15.3],[-15.0,-14.4],[-2.3,-14.8],[-16.5,-19.7],[-14.3,-21.4],[-15.2,-23.9],[-1.1,10.8],[-0.7,7.1],[-2.6,0.0],
];
const p4Cluster1: Pt[] = [
  [1.9,16.9],[2.4,15.5],[2.9,15.5],[4.0,15.4],[6.0,15.1],[-2.5,14.4],[-2.1,14.2],[0.2,14.7],[-0.8,13.8],[0.4,13.8],[3.1,13.7],[4.6,13.8],[-1.9,13.0],[-0.3,13.2],[3.6,12.5],[-4.6,11.7],[-0.9,11.9],[1.2,12.2],[1.4,11.9],[-3.8,11.2],[-2.9,10.8],[-4.1,10.8],[-3.1,10.4],[0.7,10.6],[-0.9,11.4],[-8.2,10.1],[-3.1,9.4],[-1.3,9.8],[-0.9,9.6],[3.1,10.3],[0.6,10.4],[-4.0,8.6],[-2.1,8.7],[-1.7,8.4],[-1.0,8.8],[-0.6,8.7],[-1.8,8.2],[-7.3,9.0],[-6.4,7.9],[-5.2,8.0],[-6.1,7.5],[-5.5,7.3],[-4.3,7.5],[-3.4,7.3],[-0.2,8.3],[0.2,8.0],[-1.1,7.9],[-8.4,6.8],[-7.9,7.0],[-7.0,7.7],[-6.3,7.2],[-5.8,7.0],[-4.7,7.2],[-4.4,6.7],[-3.6,6.8],[-2.8,7.2],[-2.6,6.2],[-0.6,7.2],[0.3,6.8],[1.4,7.3],[1.9,7.2],[3.0,6.6],[1.6,6.4],[-14.8,6.0],[-10.4,6.3],[-8.8,6.2],[-8.6,5.7],[-7.7,5.9],[-6.7,6.4],[-5.9,6.3],[-5.4,6.4],[-4.8,6.4],[-4.1,6.2],[-4.0,6.5],[-0.4,5.5],[0.5,5.6],[-0.5,5.4],[1.4,5.9],[1.4,6.8],[-8.8,5.0],[-8.1,4.9],[-7.6,5.2],[-6.9,5.2],[-6.0,5.1],[-5.4,4.7],[-4.7,5.0],[-3.6,4.9],[-3.0,5.0],[-2.6,5.4],[-1.7,4.7],[-0.1,6.3],[-10.3,4.8],[-9.3,3.9],[-8.6,4.3],[-8.0,3.9],[-7.2,4.2],[-6.2,4.0],[-5.7,4.4],[-5.0,4.4],[-5.8,3.7],[-4.8,3.8],[-4.3,4.1],[-3.7,3.9],[-2.4,3.9],[-1.1,4.0],[-13.7,3.4],[-8.3,3.1],[-7.4,3.2],[-6.6,3.3],[-6.1,3.2],[-5.4,3.5],[-4.9,3.2],[-3.9,3.3],[-2.9,2.7],[-2.4,3.5],[-0.2,2.4],[-11.3,2.9],[-16.8,2.2],[-11.0,2.0],[-10.3,2.1],[-9.6,1.8],[-9.0,2.0],[-8.0,2.3],[-7.3,2.0],[-6.3,2.1],[-5.8,1.8],[-5.3,1.6],[-4.7,1.6],[-3.9,1.8],[-3.6,2.1],[-3.0,2.1],[-2.6,1.9],[-1.6,2.9],[1.4,2.0],[-10.6,1.5],[-9.9,1.1],[-9.3,1.0],[-8.6,1.5],[-8.3,0.9],[-7.6,1.0],[-6.7,1.2],[-5.9,1.3],[-5.0,1.2],[-4.0,1.3],[-3.1,1.0],[-1.6,0.8],[-13.1,0.2],[-12.5,-0.1],[-11.0,0.2],[-10.1,0.1],[-9.3,0.4],[-8.7,0.0],[-7.7,0.1],[-7.2,-0.2],[-5.3,0.4],[-4.2,0.7],[-2.9,0.1],[-13.7,-0.7],[-12.0,-0.7],[-11.3,-1.3],[-10.7,-1.1],[-9.8,-0.5],[-9.6,-1.3],[-8.6,-0.5],[-8.8,-1.3],[-8.0,-0.6],[-5.4,-1.4],[-12.5,-1.6],[-12.3,-1.9],[-11.4,-1.6],[-10.8,-1.5],[-10.4,-2.0],[-9.9,-2.4],[-9.5,-1.8],[-8.5,-1.7],[-7.8,-2.1],[-7.0,-2.8],[-7.9,-2.8],[-13.0,-2.8],[-13.7,-3.0],[-12.9,-3.2],[-12.2,-2.7],[-11.5,-2.9],[-9.2,-3.4],[-10.8,-4.4],[-16.1,-3.0],[-18.4,-3.0],[-16.3,-3.6],[-20.1,-7.5],[-18.1,-8.0],
];
const p4Cluster2: Pt[] = [[-4.4,3.5],[-4.0,4.3]];
const p4Cluster4: Pt[] = [[-8.0,-1.3]];
const p4Cluster5: Pt[] = [[-5.3,7.2],[-3.6,6.7],[-2.9,7.6],[-1.9,6.6]];

// ---- Detected Cluster 5 ----
const p5Background: Pt[] = [
  [-19.9,16.0],[-10.0,10.4],[-10.4,9.0],[-24.5,8.0],[-21.0,5.2],[-17.6,3.9],[-10.0,3.9],[-12.9,1.6],[-17.5,-1.2],[-24.6,-2.9],[0.9,-1.0],[4.3,-2.9],[5.8,-4.7],[-0.2,-4.0],[-21.9,-7.2],[-12.4,-7.0],[-9.1,-6.0],[5.4,-7.5],[9.1,-9.2],[1.3,-9.0],[0.6,-9.7],[5.5,-10.2],[6.4,-11.8],[2.7,-9.8],[9.3,-12.5],[-20.1,-12.9],[-17.2,-12.5],[-11.5,-12.6],[-9.4,-11.5],[-2.6,-12.9],[2.8,-12.9],[4.2,-13.6],[4.7,-14.6],[11.6,-14.3],[6.1,-15.8],[6.5,-15.4],[5.3,-16.5],[12.1,-16.7],[13.0,-17.3],[-20.9,-17.0],[-9.4,-16.3],[-8.8,-15.8],[-8.4,-18.2],[-8.0,-18.2],[-0.4,-15.0],[-0.8,-15.5],[-3.9,-15.7],[-5.5,-16.0],[-2.7,-14.6],[1.5,-17.7],[1.6,-18.0],[-5.6,-19.1],[-4.9,-20.0],[-3.5,-18.7],[-4.0,-20.1],[3.8,-19.1],[5.9,-20.0],[9.5,-19.0],[10.9,-19.6],[-24.4,-21.1],[-23.0,-20.8],[-5.6,-21.0],[-6.7,-22.0],[-7.3,-22.5],[-0.1,-21.2],[1.8,-21.0],[6.3,-21.3],[6.9,-21.2],[10.3,-20.9],[11.1,-21.1],[-3.8,-23.2],[-3.0,-24.2],[-0.5,-23.6],[0.1,-24.3],[0.9,-24.6],[3.0,-24.8],[3.8,-22.8],[7.3,-22.8],[10.4,-24.6],
];
const p5Cluster4: Pt[] = [
  [-26.0,2.5],[-14.9,7.8],[-13.1,6.8],[-7.3,6.2],[-14.0,4.8],[-18.5,3.9],[-19.3,3.2],[-19.7,2.5],[-16.8,2.8],[-10.7,5.2],[-9.7,4.5],[-11.8,3.0],[-11.5,2.8],[-10.9,2.8],[-7.0,4.6],[-7.1,3.9],[-7.4,3.7],[-7.6,3.0],[0.1,3.6],[-14.6,3.3],[-14.1,2.4],[-13.3,1.3],[-13.2,0.7],[-12.7,0.9],[-11.6,1.3],[-12.2,1.0],[-10.1,1.9],[-9.5,0.7],[-9.0,0.8],[-8.8,1.6],[-7.5,0.9],[-0.1,0.5],[-4.5,0.4],[-12.8,-0.2],[-14.0,0.0],[-11.1,-1.2],[-10.2,0.1],[-9.2,-0.7],[-8.5,-0.2],[-17.8,-1.4],[-13.6,-1.2],[-14.6,-1.9],[-15.3,-2.5],[-13.6,-2.4],[-12.7,-2.5],[-11.9,-2.8],[-11.5,-2.4],[-11.3,-2.6],[-14.7,-3.4],[-13.9,-3.8],[-12.8,-3.3],[-12.0,-3.9],[-11.3,-3.9],[-10.7,-2.7],[-9.9,-2.8],[-8.2,-2.9],[-7.1,-2.8],[-6.9,-3.2],[-7.7,-3.2],[-7.8,-4.0],[-8.2,-3.6],[-15.9,-4.4],[-17.6,-5.6],[-16.7,-5.4],[-14.9,-5.0],[-12.5,-4.6],[-12.0,-4.8],[-11.4,-4.8],[-10.7,-4.8],[-10.2,-4.2],[-10.0,-4.8],[-9.3,-4.9],[-8.9,-5.1],[-8.2,-5.2],[-7.5,-4.4],[-6.5,-4.3],[-6.0,-4.2],[-5.4,-4.4],[-4.6,-5.3],[-5.0,-4.2],[-4.0,-2.3],[-5.1,-2.6],[-2.1,-1.9],[-0.9,-2.1],[-2.2,-0.6],[0.4,-3.7],[0.7,-4.1],[1.0,-4.6],[1.0,-5.0],[2.2,-4.8],[1.7,-2.3],[-0.6,-5.3],[-0.1,-4.7],[-2.8,-5.7],[-2.2,-5.4],[-1.6,-5.5],[-20.2,-4.1],[-15.4,-8.2],[-14.2,-7.2],[-13.4,-7.0],[-12.5,-5.9],[-11.6,-6.6],[-10.9,-6.7],[-10.3,-5.7],[-10.1,-6.1],[-9.6,-7.3],[-8.1,-6.4],[-7.1,-6.9],[-6.8,-6.5],[-6.0,-6.9],[-6.2,-7.5],[-5.8,-7.2],[-5.3,-7.7],[-4.1,-7.1],[-1.7,-6.7],[-1.8,-7.5],[-2.6,-8.0],[-2.2,-8.5],[-1.3,-8.4],[-0.1,-8.4],[2.2,-6.5],[2.7,-7.5],[2.5,-8.1],[-9.9,-8.4],[-7.4,-8.7],[-6.3,-8.1],[-5.9,-7.8],[-5.0,-8.0],[-4.7,-9.1],[-4.2,-8.5],[-3.1,-8.6],[-1.7,-9.1],[-0.5,-9.5],[1.4,-9.5],[2.0,-10.1],[3.2,-9.6],[-12.4,-9.3],[-12.2,-10.1],[-10.9,-9.8],[-10.4,-10.1],[-9.3,-9.8],[-8.9,-10.8],[-8.5,-10.9],[-7.9,-9.8],[-7.3,-9.7],[-6.2,-9.2],[-6.2,-9.7],[-5.4,-9.3],[-3.6,-9.3],[-2.7,-9.9],[-2.2,-10.3],[-1.5,-10.2],[0.7,-10.2],[-0.3,-10.8],[0.4,-11.6],[2.6,-11.2],[-10.6,-11.9],[-6.2,-11.7],[-6.0,-12.3],[-5.5,-12.0],[-4.6,-11.7],[-2.9,-11.5],[-2.4,-11.5],[-2.8,-12.3],[-1.2,-12.7],[0.3,-13.0],[0.3,-13.6],[1.6,-13.5],[-15.3,-13.9],[-12.4,-13.3],[-5.8,-13.1],[-5.3,-12.8],[-4.8,-14.2],[-4.3,-14.4],[-7.3,-15.4],[-5.9,-15.2],[-8.4,-16.3],[-8.0,-16.0],[-5.4,-16.5],[-4.0,-16.2],[-2.4,-16.2],[-1.8,-15.2],[-0.6,-16.2],[0.5,-14.2],[0.9,-15.8],[1.1,-16.5],[1.8,-15.4],[3.8,-13.9],[4.1,-15.9],[-13.6,-15.9],[-10.9,-17.6],[-5.5,-18.2],[-3.6,-17.6],[-2.0,-18.7],[0.2,-19.0],[4.5,-19.5],[-9.2,-20.2],[-6.8,-20.9],[0.5,-23.1],
];
const p5Cluster5: Pt[] = [[-8.0,-2.3],[-4.7,-3.3],[-3.4,-3.8]];

// ---- Detected Cluster 6 ----
const p6Background: Pt[] = [
  [21.1,23.8],[15.5,22.4],[15.9,21.4],[24.5,22.4],[20.4,22.1],[17.4,19.6],[15.1,18.0],[18.2,17.6],[11.6,16.2],[18.0,16.0],[24.3,16.9],[23.4,15.5],[9.6,14.8],[14.7,14.5],[8.9,13.9],[18.9,14.1],[20.4,14.1],[17.1,13.1],[11.0,13.2],[10.9,12.1],[15.4,12.3],[18.5,12.2],[6.0,12.1],[7.5,11.2],[7.3,10.5],[0.1,10.3],[-0.4,9.1],[5.9,10.3],[3.9,9.4],[12.1,9.7],[15.0,9.7],[8.2,9.0],[8.2,8.3],[17.3,8.6],[22.1,8.6],[24.1,8.4],[5.4,7.2],[10.9,7.8],[12.9,7.4],[13.6,7.7],[14.5,5.7],[10.1,5.6],[2.3,5.4],[6.9,4.9],[5.4,4.2],[15.7,4.9],[15.7,4.4],[13.1,4.6],[21.6,5.2],[22.3,4.5],[16.8,3.8],[2.7,3.5],[6.8,2.7],[7.4,2.2],[7.2,1.6],[6.7,1.8],[4.3,2.1],[10.2,2.0],[21.1,1.8],[20.6,1.2],[-2.7,0.1],[14.0,-1.2],[23.3,-2.5],[23.0,-2.8],[0.8,-3.6],[8.8,-3.3],[4.6,-5.2],[15.1,-4.6],[0.8,-6.0],[6.0,-6.5],[13.9,-6.4],[22.5,-5.9],[22.4,-8.0],[15.9,-7.7],[13.8,-10.7],[9.6,-13.3],[16.2,-13.3],[23.7,-14.3],[-13.6,-15.0],[-10.7,-15.3],[-5.1,-17.6],[20.8,-16.7],[22.0,-16.0],[22.1,-18.0],[5.0,-17.2],[5.5,-16.8],[6.8,-18.6],[9.7,-18.2],[9.8,-19.4],[8.4,-20.2],[4.8,-20.5],[21.3,-19.4],[23.6,-18.8],[22.9,-20.1],[23.9,-20.0],[-6.2,-20.4],[-5.4,-21.8],[18.0,-21.1],[19.8,-22.0],[21.1,-22.6],[22.6,-21.9],[23.0,-22.6],[24.2,-22.5],[24.8,-21.2],[14.5,-23.5],[21.4,-23.9],[24.3,-23.5],[24.6,-23.8],
];
const p6Cluster2: Pt[] = [[9.3,-8.1]];
const p6Cluster3: Pt[] = [
  [19.5,11.0],[14.8,4.5],[8.6,4.4],[8.2,3.6],[24.3,3.3],[17.3,3.0],[12.7,2.2],[18.0,1.4],[10.5,0.7],[11.4,0.8],[19.5,0.8],[20.0,0.1],[22.8,1.1],[14.0,0.3],[18.6,-0.7],[8.9,-1.0],[13.0,-0.7],[15.8,-1.0],[4.0,-2.4],[3.2,-3.3],[1.2,-3.7],[6.1,-3.3],[7.3,-4.1],[8.2,-2.6],[9.2,-2.8],[9.9,-3.1],[10.8,-2.7],[11.5,-3.0],[13.6,-3.2],[13.9,-3.7],[14.5,-2.5],[15.4,-2.6],[16.5,-3.1],[16.8,-2.8],[18.5,-3.4],[22.7,-3.6],[4.2,-5.7],[3.8,-6.2],[5.1,-6.0],[6.4,-4.4],[8.0,-4.6],[8.6,-5.4],[9.6,-5.5],[10.1,-5.6],[10.8,-4.7],[11.4,-6.1],[12.1,-5.7],[13.1,-5.0],[13.9,-5.2],[14.7,-5.4],[19.5,-5.2],[3.9,-7.6],[5.1,-7.1],[5.9,-7.2],[6.6,-6.9],[7.4,-8.2],[7.7,-7.9],[8.2,-7.7],[8.8,-7.3],[9.9,-6.6],[10.1,-6.1],[11.9,-6.5],[12.9,-6.9],[13.2,-7.3],[13.8,-6.6],[14.8,-6.5],[15.2,-7.6],[15.8,-7.5],[16.7,-7.1],[17.4,-8.1],[14.9,-8.4],[22.3,-7.1],[21.2,-8.0],[-0.8,-8.6],[0.7,-9.1],[0.9,-10.0],[1.2,-9.6],[2.6,-9.1],[4.2,-9.8],[5.3,-9.1],[6.5,-8.0],[6.5,-8.9],[7.5,-8.4],[8.9,-9.7],[9.4,-10.6],[10.4,-9.5],[10.8,-9.0],[11.1,-8.4],[11.4,-10.3],[12.0,-9.1],[11.6,-9.7],[12.1,-8.4],[13.6,-9.7],[14.8,-9.6],[14.9,-10.4],[15.8,-10.0],[18.7,-8.7],[18.8,-9.4],[18.7,-10.6],[21.5,-10.5],[2.9,-10.7],[3.9,-11.3],[4.6,-12.0],[5.0,-10.6],[6.1,-10.6],[6.2,-11.3],[7.2,-11.0],[7.4,-12.0],[7.2,-12.4],[8.2,-11.9],[9.0,-11.3],[10.0,-10.8],[10.4,-11.2],[12.7,-10.9],[12.9,-11.5],[13.6,-11.3],[13.8,-12.5],[14.3,-12.6],[19.0,-11.6],[-1.3,-13.4],[-0.4,-13.8],[0.2,-12.9],[0.9,-14.2],[3.1,-13.1],[3.7,-14.0],[4.4,-14.2],[5.1,-14.1],[5.9,-13.0],[7.1,-13.9],[7.4,-13.3],[8.0,-14.0],[8.2,-13.0],[8.6,-12.4],[10.0,-12.8],[11.1,-12.6],[11.4,-13.2],[11.8,-13.5],[13.6,-13.9],[13.5,-14.5],[16.6,-13.7],[15.9,-14.4],[19.5,-13.2],[1.4,-15.6],[2.9,-14.6],[4.2,-14.8],[5.8,-15.0],[7.1,-15.3],[7.5,-14.8],[8.1,-15.4],[9.1,-15.0],[10.1,-15.8],[11.4,-15.5],[12.2,-15.2],[1.3,-16.5],[1.3,-17.2],[3.2,-16.5],[3.5,-17.2],[4.9,-16.2],[5.3,-17.2],[6.1,-16.4],[6.6,-16.2],[7.0,-16.0],[8.0,-16.1],[8.4,-16.1],[9.5,-17.2],[9.9,-17.6],[10.4,-17.9],[10.6,-17.2],[12.1,-16.9],[17.7,-16.4],[17.0,-17.6],[19.7,-15.7],[-0.9,-17.6],[2.1,-18.0],[2.8,-19.0],[2.6,-19.5],[4.6,-20.0],[4.9,-20.2],[7.0,-19.2],[7.9,-18.8],[12.3,-18.3],[12.9,-18.7],[0.5,-21.6],[6.3,-22.8],[8.5,-22.6],[10.9,-22.4],[2.3,-25.2],
];

// ---- layout ----
const W = 3467;
const H = 2203;
const PW = 1005;
const PH = 881;
const FONT = 'DejaVu Sans';
const colors = ['#c4c4c4', '#e8203a', '#0a7dc2', '#04a838', '#ff8200', '#9e72c8'];

const rowsToPoints = (rows: [number[], number[]][]): Pt[] =>
  rows.flatMap(([xs, ys]) => xs.slice(0, Math.min(xs.length, ys.length)).map((v, i) => [v, ys[i]] as Pt));
const p2Background: Pt[] = [...rowsToPoints(p2BackgroundRows), ...rowsToPoints(p2BackgroundRowsB)];

const empty: Pt[] = [];
// legend: first letter vertical (u/l), second horizontal (l/r)
const panels = [
  { title: titles[0], series: [p1Background, empty, empty, empty, p1Cluster4, p1Cluster5], legend: 'ul', origin: [162, 107] },
  { title: titles[1], series: [p2Background, p2Cluster1, p2Cluster2, p2Cluster3, p2Cluster4, p2Cluster5], legend: 'lr', origin: [1267, 107] },
  { title: titles[2], series: [p3Background, empty, p3Cluster2, p3Cluster3, p3Cluster4, p3Cluster5], legend: 'ul', origin: [2375, 107] },
  { title: titles[3], series: [p4Background, p4Cluster1, p4Cluster2, empty, p4Cluster4, p4Cluster5], legend: 'lr', origin: [172, 1195] },
  { title: titles[4], series: [p5Background, empty, empty, empty, p5Cluster4, p5Cluster5], legend: 'ur', origin: [1279, 1195] },
  { title: titles[5], series: [p6Background, empty, p6Cluster2, p6Cluster3, empty, empty], legend: 'ul', origin: [2385, 1195] },
];

const x = d3.scaleLinear().domain([-28.44, 27.67]).range([0, PW]);
const y = d3.scaleLinear().domain([-27.55, 27.5]).range([PH, 0]);
const fmt = (v: number) => (v < 0 ? '\u2212' + Math.abs(v) : String(v));

const LW = 396;
const LH = 366;

function Legend({ loc }: { loc: string }) {
  const lx = loc[1] === 'l' ? 18 : PW - 18 - LW;
  const ly = loc[0] === 'u' ? 21 : PH - 21 - LH;
  return (
    <g transform={`translate(${lx},${ly})`}>
      <rect width={LW} height={LH} rx={8} fill="#fff" fillOpacity={0.8} stroke="#d4d4d4" strokeWidth={2} />
      {categories.map((c, i) => (
        <g key={c} transform={`translate(0,${35 + i * 59.4})`}>
          <circle cx={54} cy={0} r={12.5} fill={i === 0 ? '#d3d3d3' : colors[i]} />
          <text x={121} y={10} fontSize={36} fontFamily={FONT} fill="#1a1a1a">{c}</text>
        </g>
      ))}
    </g>
  );
}

function Panel({ cfg, index }: { cfg: typeof panels[number]; index: number }) {
  const [ox, oy] = cfg.origin;
  const first = index === 0;
  return (
    <g transform={`translate(${ox},${oy})`}>
      <text x={PW / 2} y={-19} textAnchor="middle" fontSize={62} fontFamily={FONT} fill="#000">{cfg.title}</text>
      {cfg.series.map((pts, k) => (
        <g key={k} fill={k === 0 ? '#9a9a9a' : colors[k]} fillOpacity={k === 0 ? 0.55 : 1}>
          {pts.map((p, i) => (
            <circle key={i} cx={x(p[0])} cy={y(p[1])} r={4.4} />
          ))}
        </g>
      ))}
      <rect width={PW} height={PH} fill="none" stroke="#000" strokeWidth={2.5} />
      {tickValues.map((t) => (
        <g key={'x' + t}>
          <line x1={x(t)} x2={x(t)} y1={PH} y2={PH + 10} stroke="#000" strokeWidth={2} />
          <text x={x(t)} y={PH + 43} textAnchor="middle" fontSize={29} fontFamily={FONT} fill="#1a1a1a">{fmt(t)}</text>
        </g>
      ))}
      {tickValues.map((t) => (
        <g key={'y' + t}>
          <line x1={-10} x2={0} y1={y(t)} y2={y(t)} stroke="#000" strokeWidth={2} />
          {first && (
            <text x={-24} y={y(t)} dy="0.36em" textAnchor="end" fontSize={29} fontFamily={FONT} fill="#1a1a1a">{fmt(t)}</text>
          )}
        </g>
      ))}
      <text x={PW / 2} y={PH + 99} textAnchor="middle" fontSize={44} fontFamily={FONT} fill="#000">x</text>
      <text transform={`translate(${first ? -112 : -35},${PH / 2}) rotate(-90)`} textAnchor="middle" fontSize={44} fontFamily={FONT} fill="#000">y</text>
      <Legend loc={cfg.legend} />
    </g>
  );
}

export default function App() {
  return (
    <svg
      width={W}
      height={H}
      viewBox={`0 0 ${W} ${H}`}
      style={{ position: 'absolute', left: 0, top: 0, display: 'block', background: '#fff' }}
    >
      <rect width={W} height={H} fill="#fff" />
      <rect x={0} y={5} width={W} height={3} fill="#3c7dc0" />
      {panels.map((p, i) => (
        <Panel key={i} cfg={p} index={i} />
      ))}
      <text x={1191} y={2240} fontSize={66} fontStyle="italic" fontFamily="Open Sans" fill="#111" textLength={1290} lengthAdjust="spacingAndGlyphs">{caption}</text>
    </svg>
  );
}
